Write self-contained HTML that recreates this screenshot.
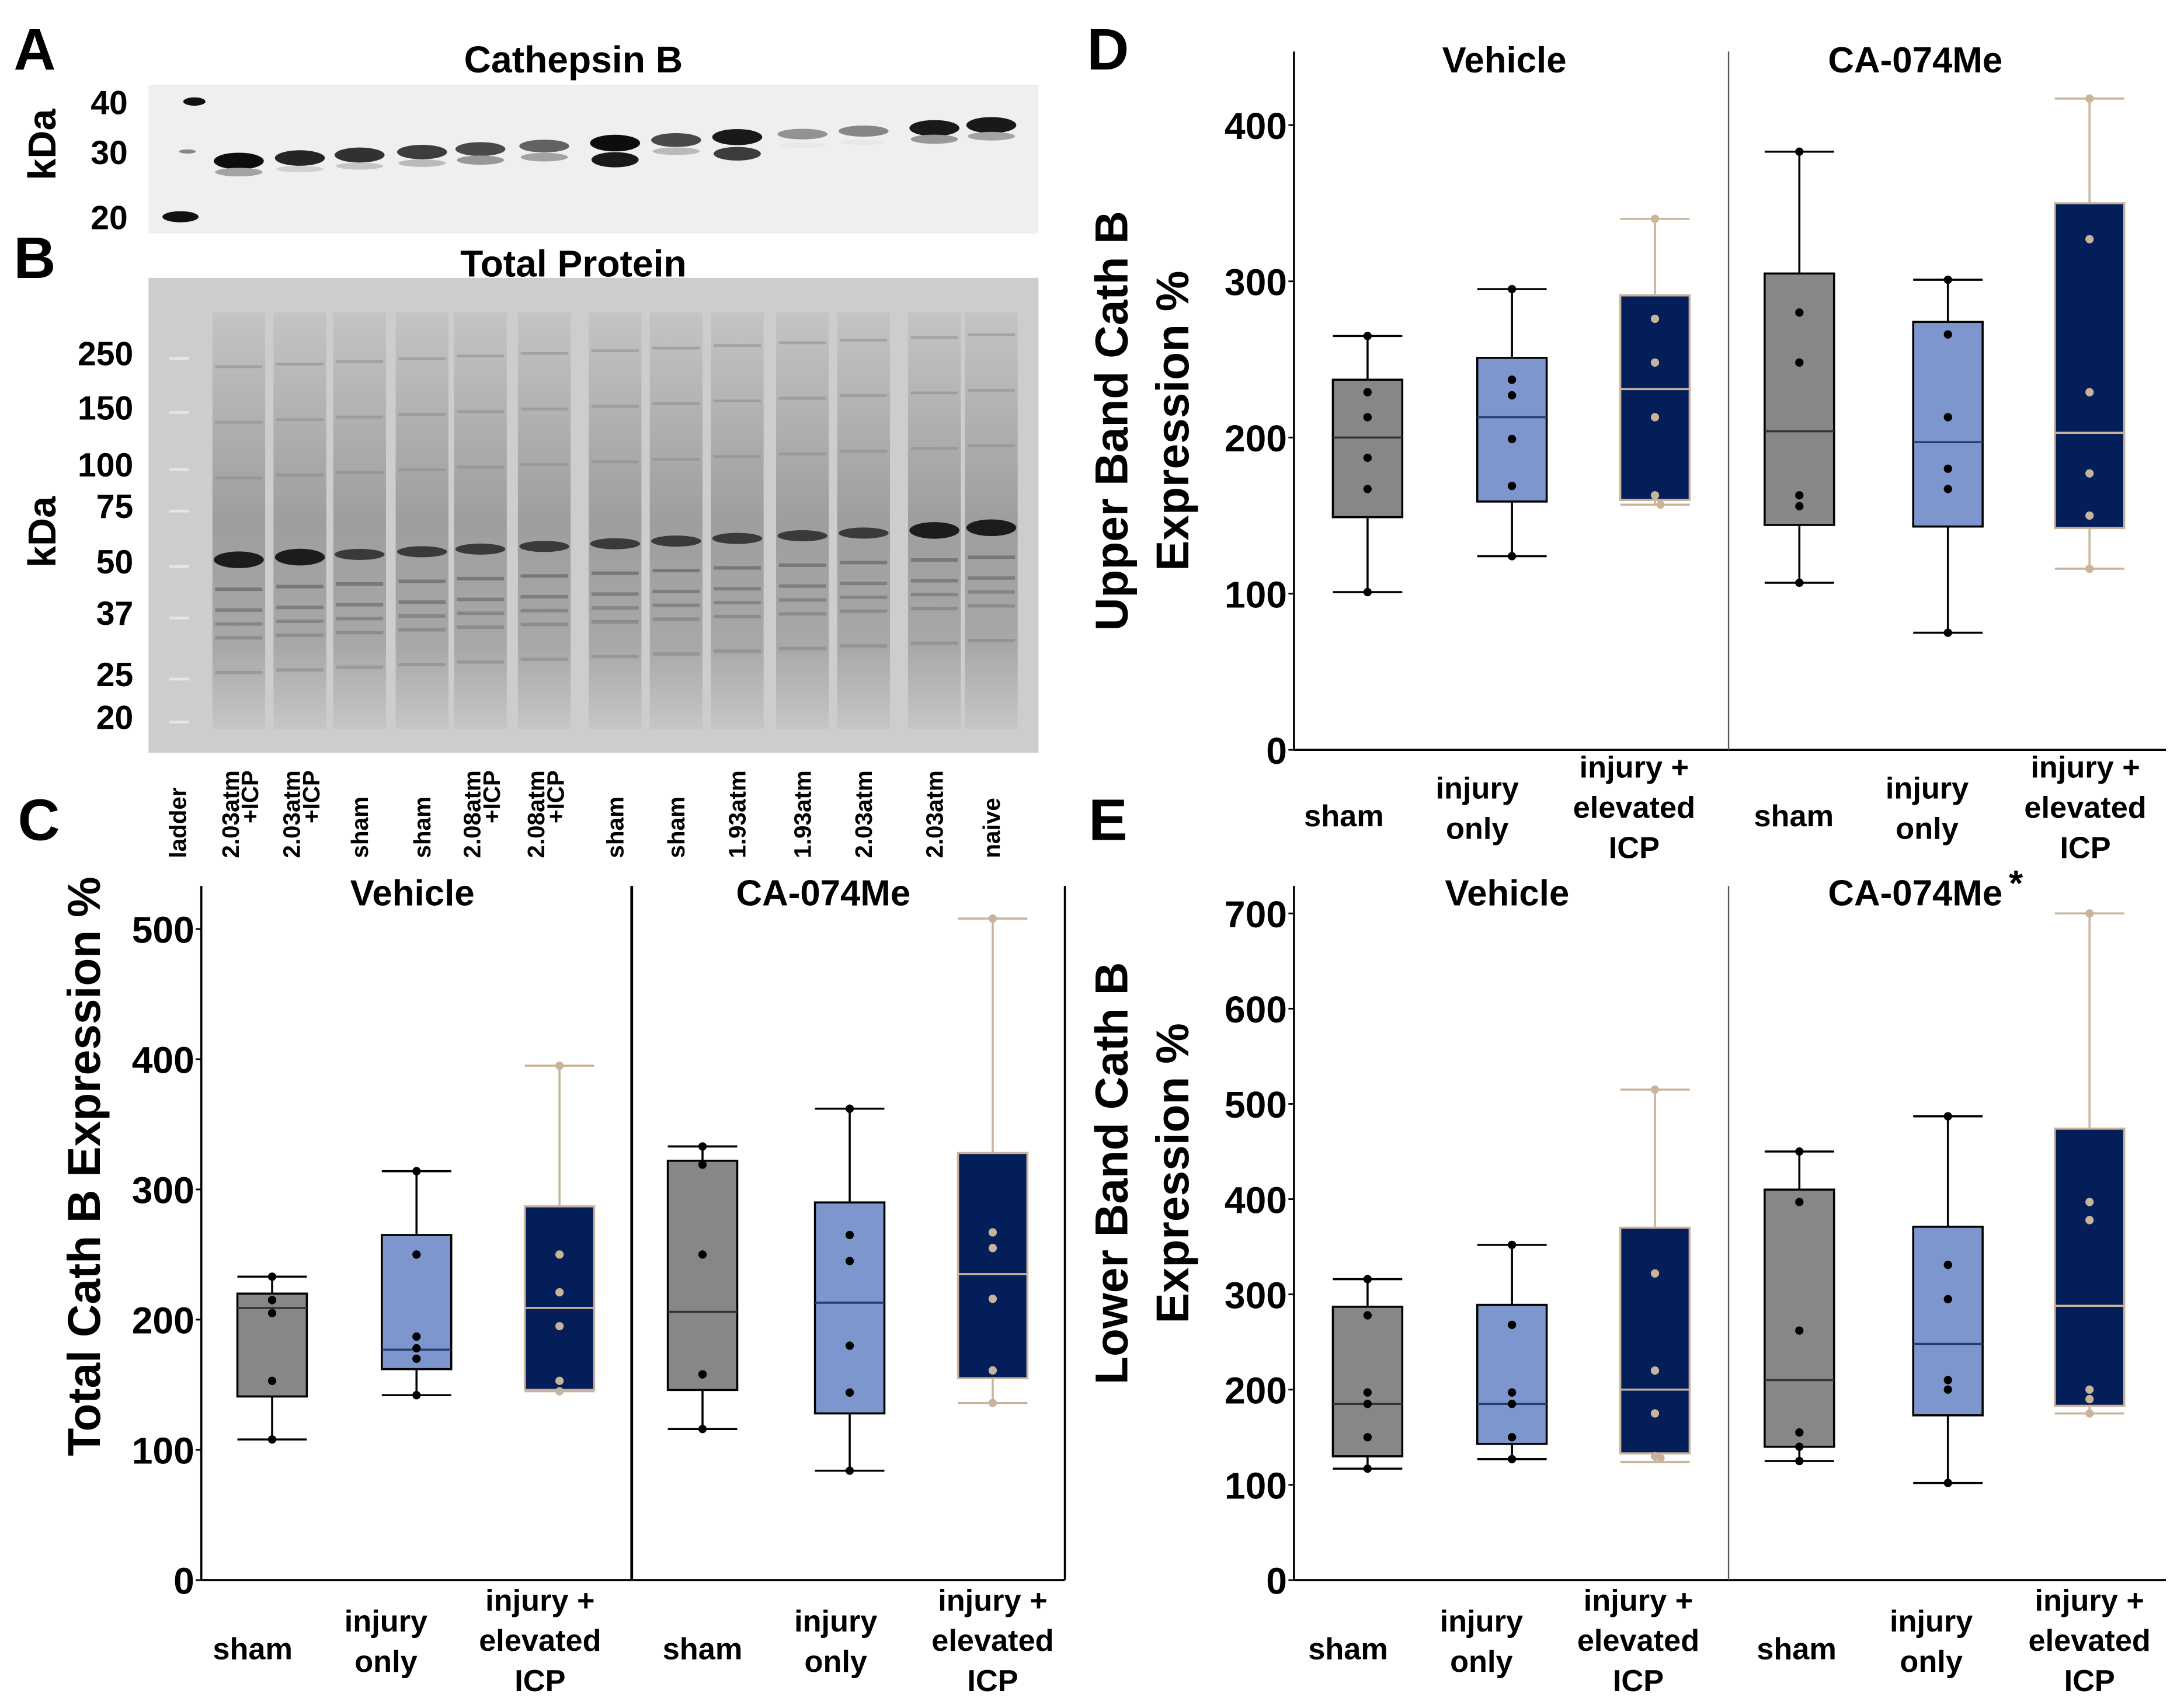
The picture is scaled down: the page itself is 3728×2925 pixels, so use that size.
<!DOCTYPE html>
<html><head><meta charset="utf-8"><style>
html,body{margin:0;padding:0;background:#fff;}
svg{display:block;}
text{font-family:"Liberation Sans",Arial,sans-serif;font-weight:bold;fill:#000;}
</style></head><body>
<svg id="fig" width="3728" height="2925" viewBox="0 0 1568 1230" xmlns="http://www.w3.org/2000/svg">
<rect x="0" y="0" width="1568" height="1230" fill="#fff"/>
<g id="blots"></g>
<g id="charts"></g>
</svg>
<script>
// ---------- data ----------
const groups = ["sham","injury only","injury + elevated ICP","sham","injury only","injury + elevated ICP"];
const facets = ["Vehicle","CA-074Me"];
// Panel C: [min, q1, median, q3, max]
const statsC = [[108,141,209,220,233],[142,162,177,265,314],[145,146,209,287,395],[116,146,206,322,333],[84,128,213,290,362],[136,155,235,328,508]];
const pointsC = [[233,215,215,205,153,108],[314,250,187,178,170,142],[395,250,221,195,153,145],[333,319,250,158,158,116],[362,265,245,180,144,84],[508,267,255,216,161,136]];
const ticksC = [0,100,200,300,400,500];
// Panel D
const statsD = [[101,149,200,237,265],[124,159,213,251,295],[157,160,231,291,340],[107,144,204,305,383],[75,143,197,274,301],[116,142,203,350,417]];
const pointsD = [[265,229,213,187,167,101],[295,237,227,199,169,124],[340,276,248,213,163,157],[383,280,248,163,156,107],[301,266,213,180,167,75],[417,327,229,177,150,116]];
const ticksD = [0,100,200,300,400];
// Panel E
const statsE = [[117,130,185,287,316],[127,143,185,289,352],[124,133,200,370,515],[125,140,210,410,450],[102,173,248,371,487],[175,183,288,474,700]];
const pointsE = [[316,278,197,185,150,117],[352,268,197,185,150,127],[515,322,220,175,130,128],[450,397,262,155,140,125],[487,331,295,210,200,102],[700,397,378,200,190,175]];
const ticksE = [0,100,200,300,400,500,600,700];
// Blot lanes
const laneNames = ["ladder","2.03atm|+ICP","2.03atm|+ICP","sham","sham","2.08atm|+ICP","2.08atm|+ICP","sham","sham","1.93atm","1.93atm","2.03atm","2.03atm","naive"];
const upperBand = [0,1.0,0.9,0.85,0.8,0.75,0.65,1.0,0.75,0.95,0.45,0.5,0.95,0.95];
const lowerBand = [0,0.4,0.2,0.25,0.3,0.45,0.4,1.0,0.3,0.85,0.1,0.1,0.45,0.4];

const NS="http://www.w3.org/2000/svg";
function mk(tag, attrs, parent){const e=document.createElementNS(NS,tag);for(const k in attrs)e.setAttribute(k,attrs[k]);parent.appendChild(e);return e;}
function txt(parent,x,y,s,size,anchor,rot){const t=mk('text',{x:x,y:y,'font-size':size,'text-anchor':anchor||'middle'},parent);if(rot)t.setAttribute('transform','rotate('+rot+' '+x+' '+y+')');t.textContent=s;return t;}

const blots=document.getElementById('blots');
const charts=document.getElementById('charts');
const colors=["#878787","#7d96cd","#041e5a","#878787","#7d96cd","#041e5a"];
const tan="#c8b49b";

// ---------- panel letters / blot titles ----------
[["A",25,50],["B",25,200],["C",28,605],["D",798,50],["E",798,605]].forEach(a=>{
  const t=txt(blots,a[1],a[2],a[0],42,'middle');
  
  
});
let t=txt(blots,413,52,"Cathepsin B",27);


t=txt(blots,413,199,"Total Protein",27);



// ---------- blot A ----------
const laneX=[135,172,216,259,304,346,392,443,487,531,578,622,673,714];
let r=mk('rect',{x:107,y:61,width:641,height:107,fill:'#efefef'},blots);


t=txt(blots,40,104,"kDa",28,'middle',-90);


[["40",82],["30",118],["20",165]].forEach(a=>{const tt=txt(blots,92,a[1],a[0],24,'end');
  
  });
mk('ellipse',{cx:140,cy:73,rx:8,ry:3,fill:'#111'},blots);
mk('ellipse',{cx:135,cy:109,rx:6,ry:1.5,fill:'#888'},blots);
mk('ellipse',{cx:130,cy:156,rx:13,ry:4,fill:'#111'},blots);
for(let i=1;i<laneNames.length;i++){
  const x=laneX[i];
  const yU=118-(i/13)*28;
  const g=Math.round(255*(1-upperBand[i]*0.95));
  const b=mk('ellipse',{cx:x,cy:yU,rx:18,ry:2+upperBand[i]*4,fill:'rgb('+g+','+g+','+g+')'},blots);
  
  
  const g2=Math.round(255*(1-lowerBand[i]*0.9));
  const b2=mk('ellipse',{cx:x,cy:yU+(i==7||i==9?12:8),rx:17,ry:1.5+lowerBand[i]*4,fill:'rgb('+g2+','+g2+','+g2+')'},blots);
  
  
}

// ---------- blot B ----------
r=mk('rect',{x:107,y:200,width:641,height:342,fill:'#cdcdcd'},blots);


t=txt(blots,40,383,"kDa",28,'middle',-90);


[["250",263],["150",302],["100",343],["75",373],["50",413],["37",450],["25",494],["20",525]].forEach(a=>{const tt=txt(blots,96,a[1],a[0],24,'end');
  
  });
const defs=mk('defs',{},blots);
const lg=mk('linearGradient',{id:'lane',x1:0,y1:0,x2:0,y2:1},defs);
mk('stop',{offset:'0','stop-color':'#c4c4c4'},lg);
mk('stop',{offset:'0.5','stop-color':'#9e9e9e'},lg);
mk('stop',{offset:'0.8','stop-color':'#a8a8a8'},lg);
mk('stop',{offset:'1','stop-color':'#c6c6c6'},lg);
for(let i=1;i<laneNames.length;i++){
  const x=laneX[i];
  const ln=mk('rect',{x:x-19,y:225,width:38,height:300,fill:'url(#lane)'},blots);
  
  
  const yM=405-(i/13)*25;
  const dark=(i<=2||i>=12)?'#1c1c1c':'#3a3a3a';
  mk('ellipse',{cx:x,cy:yM,rx:18,ry:(i<=2||i>=12)?6:4,fill:dark},blots);
  [20,35,45,55,80].forEach((d,k)=>mk('rect',{x:x-17,y:yM+d,width:34,height:2.5,fill:'#666',opacity:0.7-k*0.1},blots));
  [-60,-100,-140].forEach(d=>mk('rect',{x:x-17,y:yM+d,width:34,height:2,fill:'#888',opacity:0.5},blots));
}
[263,302,343,373,413,450,494,525].forEach(y=>mk('rect',{x:122,y:y-6,width:14,height:2,fill:'#e6e6e6'},blots));
// lane labels (rotated, reading bottom-to-top)
laneNames.forEach((n,i)=>{
  const parts=n.split('|');
  const x0=(i==0?128:laneX[i]+(parts.length>1?-6:0));
  const t1=txt(blots,x0+6,618,parts[0],17,'start',-90);
  
  
  if(parts.length>1){
    const w=t1.getComputedTextLength();
    const t2=txt(blots,x0+20,618-w,parts[1],17,'end',-90);
    
    
  }
});

// ---------- box charts ----------
function panel(cfg){
  const g=mk('g',{},charts);
  
  
  const y=v=>cfg.y0-(v/100)*cfg.per100;
  let a=mk('line',{x1:cfg.x0,y1:cfg.top,x2:cfg.x0,y2:cfg.y0,stroke:'#000','stroke-width':1.5},g);
  
  
  a=mk('line',{x1:cfg.x0,y1:cfg.y0,x2:cfg.x1,y2:cfg.y0,stroke:'#000','stroke-width':1.5},g);
  
  
  a=mk('line',{x1:cfg.div,y1:cfg.top,x2:cfg.div,y2:cfg.y0,stroke:cfg.divColor,'stroke-width':cfg.divW},g);
  
  
  if(cfg.right){a=mk('line',{x1:cfg.x1,y1:cfg.top,x2:cfg.x1,y2:cfg.y0,stroke:'#000','stroke-width':1.5},g);
    
    }
  cfg.ticks.forEach(v=>{
    mk('line',{x1:cfg.x0-4,y1:y(v),x2:cfg.x0,y2:y(v),stroke:'#000','stroke-width':1.2},g);
    const tt=txt(g,cfg.x0-5,y(v)+10,String(v),27,'end');
    
    
  });
  [[ (cfg.x0+cfg.div)/2, facets[0]],[ (cfg.div+cfg.x1)/2, facets[1]]].forEach((f,k)=>{
    const tt=txt(g,f[0]+(k==0?cfg.fOff0:cfg.fOff1),cfg.fy,f[1],26);
    
    
  });
  if(cfg.star){const s=txt(g,1452,645,"*",26);
    
    }
  cfg.title.forEach((l,k)=>{
    const tt=txt(g,cfg.tx+k*44,cfg.ty,l,33,'middle',-90);
    
    
  });
  const bw=cfg.bw;
  cfg.stats.forEach((s,i)=>{
    const cx=cfg.cx[i];
    const isICP=(i==2||i==5);
    const line=isICP?tan:'#000';
    const med=isICP?tan:(i%3==0?'#333':'#2a3a6a');
    const bg=mk('g',{},g);
    
    
    mk('line',{x1:cx,y1:y(s[0]),x2:cx,y2:y(s[1]),stroke:line,'stroke-width':1.5},bg);
    mk('line',{x1:cx,y1:y(s[3]),x2:cx,y2:y(s[4]),stroke:line,'stroke-width':1.5},bg);
    mk('line',{x1:cx-bw/2,y1:y(s[0]),x2:cx+bw/2,y2:y(s[0]),stroke:line,'stroke-width':1.5},bg);
    mk('line',{x1:cx-bw/2,y1:y(s[4]),x2:cx+bw/2,y2:y(s[4]),stroke:line,'stroke-width':1.5},bg);
    mk('rect',{x:cx-bw/2,y:y(s[3]),width:bw,height:y(s[1])-y(s[3]),fill:colors[i],stroke:line,'stroke-width':1.5},bg);
    mk('line',{x1:cx-bw/2,y1:y(s[2]),x2:cx+bw/2,y2:y(s[2]),stroke:med,'stroke-width':1.5},bg);
    cfg.points[i].forEach((p,k)=>{
      const c=mk('circle',{cx:cx+((k%2)&&Math.abs(p-cfg.points[i][k-1])<8?4:0),cy:y(p),r:3,fill:isICP?tan:'#000'},bg);
      
      
    });
    const lines=groups[i]=="sham"?["sham"]:(groups[i]=="injury only"?["injury","only"]:["injury +","elevated","ICP"]);
    const baseY=lines.length==1?cfg.ly+35:(lines.length==2?cfg.ly+15:cfg.ly);
    lines.forEach((l,k)=>{
      const tt=txt(g,cfg.cx[i]+cfg.lOff[i],baseY+k*29,l,22);
      
      
    });
  });
}
panel({name:'panel-c-total-cath-b',x0:145,x1:767,y0:1138,per100:93.8,top:638,div:455,divColor:'#000',divW:2,right:true,
  ticks:ticksC,stats:statsC,points:pointsC,cx:[196,300,403,506,612,715],bw:50,
  fy:652,fOff0:-3,fOff1:-18,title:["Total Cath B Expression %"],tx:72,ty:840,ly:1160,lOff:[-14,-22,-14,0,-10,0]});
panel({name:'panel-d-upper-band',x0:932,x1:1560,y0:540,per100:112.5,top:37,div:1245,divColor:'#555',divW:1,right:false,
  ticks:ticksD,stats:statsD,points:pointsD,cx:[985,1089,1192,1296,1403,1505],bw:50,
  fy:52,fOff0:-5,fOff1:-23,title:["Upper Band Cath B","Expression %"],tx:812,ty:303,ly:560,lOff:[-17,-25,-15,-4,-15,-3]});
panel({name:'panel-e-lower-band',x0:932,x1:1560,y0:1138,per100:68.6,top:638,div:1245,divColor:'#555',divW:1,right:false,
  ticks:ticksE,stats:statsE,points:pointsE,cx:[985,1089,1192,1296,1403,1505],bw:50,star:true,
  fy:652,fOff0:-3,fOff1:-23,title:["Lower Band Cath B","Expression %"],tx:812,ty:845,ly:1160,lOff:[-14,-22,-12,-2,-12,0]});
</script>
</body></html>
